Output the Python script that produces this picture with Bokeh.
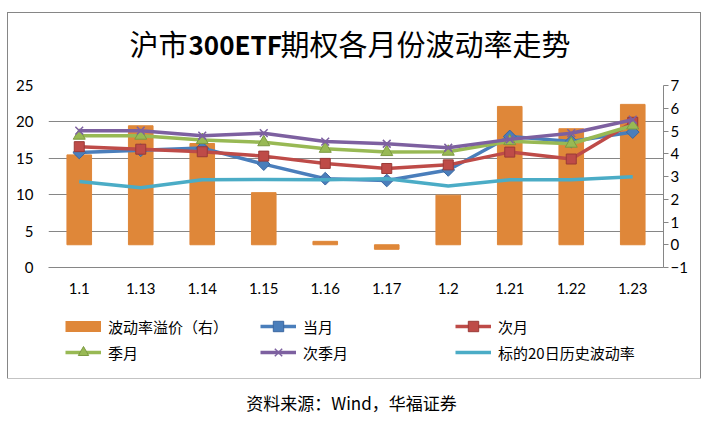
import math
from bokeh.plotting import figure
from bokeh.layouts import column
from bokeh.models import (Range1d, FactorRange, LinearAxis, FixedTicker, Legend,
                          LegendItem, Label)
from bokeh.embed import file_html
from bokeh.resources import INLINE

# ---- data ----
dates = ["1.1", "1.13", "1.14", "1.15", "1.16", "1.17", "1.2", "1.21", "1.22", "1.23"]
premium = [3.95, 5.23, 4.45, 2.29, 0.15, -0.20, 2.18, 6.08, 5.10, 6.17]      # right axis
front_month = [15.8, 16.1, 16.4, 14.2, 12.2, 11.95, 13.4, 18.0, 17.3, 18.6]
next_month = [16.6, 16.25, 15.9, 15.3, 14.3, 13.6, 14.1, 15.85, 14.9, 19.95]
quarter_month = [18.1, 18.1, 17.5, 17.2, 16.3, 15.85, 15.9, 17.35, 17.0, 19.5]
next_quarter = [18.8, 18.8, 18.1, 18.45, 17.3, 17.0, 16.45, 17.6, 18.45, 20.3]
hv20 = [11.8, 10.95, 12.05, 12.1, 12.05, 12.2, 11.2, 12.05, 12.05, 12.45]
left_ticks = [0, 5, 10, 15, 20, 25]
right_ticks = [-1, 0, 1, 2, 3, 4, 5, 6, 7]
series_names = ["波动率溢价（右）", "当月", "次月", "季月", "次季月", "标的20日历史波动率"]
title_parts = ["沪市", "300ETF", "期权各月份波动率走势"]
source_text = "资料来源：Wind，华福证券"

GRID = "#868686"
C_BAR = "#DF8739"
C_BLUE = "#4A7EBB"
C_RED = "#BE4B48"
C_GREEN = "#98B954"
C_PURPLE = "#7D60A0"
C_TEAL = "#4BACC6"
NUM_FONT = "Lato"
CJK_FONT = "Noto Sans CJK SC"
W = 692
FRAME_X = (48, 663)   # page x of the plotting frame (frames in the column are aligned)


def bare(width, height, x_range, y_top):
    f = figure(width=width, height=height, x_range=x_range,
               y_range=Range1d(0, y_top),
               output_backend="svg", toolbar_location=None,
               min_border_left=0, min_border_right=0, min_border_top=0, min_border_bottom=0,
               background_fill_color="white", border_fill_color="white")
    f.axis.visible = False
    f.grid.grid_line_color = None
    f.outline_line_color = None
    return f


def draw_series(f, visible=True):
    lw = 3.5
    if visible:
        rb = f.vbar(x=dates, top=premium, bottom=0, width=0.4, color=C_BAR,
                    y_range_name="right")
    else:
        # legend key for the bars: a short thick orange band
        rb = f.line(dates, premium, color=C_BAR, line_width=11, visible=False)
    r1l = f.line(dates, front_month, color=C_BLUE, line_width=lw, visible=visible)
    r1m = f.scatter(dates, front_month, marker="square", angle=math.pi / 4, size=9,
                    fill_color=C_BLUE, line_color="#3A67A0", visible=visible)
    r2l = f.line(dates, next_month, color=C_RED, line_width=lw, visible=visible)
    r2m = f.scatter(dates, next_month, marker="square", size=10,
                    fill_color=C_RED, line_color="#9A3A37", visible=visible)
    r3l = f.line(dates, quarter_month, color=C_GREEN, line_width=lw, visible=visible)
    r3m = f.scatter(dates, quarter_month, marker="triangle", size=12,
                    fill_color=C_GREEN, line_color="#7C9A42", visible=visible)
    r4l = f.line(dates, next_quarter, color=C_PURPLE, line_width=lw, visible=visible)
    r4m = f.scatter(dates, next_quarter, marker="x", size=11, line_color=C_PURPLE,
                    line_width=1.5, visible=visible)
    r5l = f.line(dates, hv20, color=C_TEAL, line_width=lw, visible=visible)
    return [[rb], [r1l, r1m], [r2l, r2m], [r3l, r3m], [r4l, r4m], [r5l]]


# ---- title strip ----
p_title = bare(W, 57, Range1d(*FRAME_X), 57)
p_title.add_layout(Label(x=187, y=28, text=title_parts[0], text_align="right",
                         text_baseline="middle", text_font=CJK_FONT, text_font_size="29px",
                         text_color="#000000"))
p_title.add_layout(Label(x=188, y=27, text=title_parts[1], text_align="left",
                         text_baseline="middle", text_font=CJK_FONT, text_font_size="26px",
                         text_font_style="bold", text_color="#000000"))
p_title.add_layout(Label(x=280, y=28, text=title_parts[2], text_align="left",
                         text_baseline="middle", text_font=CJK_FONT, text_font_size="29px",
                         text_color="#000000"))

# ---- main chart ----
p = figure(width=W, height=230, x_range=FactorRange(*dates, range_padding=0),
           y_range=Range1d(0, 25), output_backend="svg", toolbar_location=None,
           min_border_left=40, min_border_right=37, min_border_top=15, min_border_bottom=33,
           background_fill_color="white", border_fill_color="white")
p.outline_line_color = None
p.extra_y_ranges = {"right": Range1d(-1, 7)}

p.yaxis.ticker = FixedTicker(ticks=left_ticks)
p.yaxis.axis_line_color = None
p.yaxis.major_tick_line_color = None
p.yaxis.minor_tick_line_color = None
p.yaxis.major_label_standoff = 9
p.yaxis.major_label_text_font = NUM_FONT
p.yaxis.major_label_text_font_size = "15px"
p.yaxis.major_label_text_color = "#000000"

p.xaxis.axis_line_color = GRID
p.xaxis.major_tick_line_color = None
p.xaxis.major_label_standoff = 9
p.xaxis.major_label_text_font = NUM_FONT
p.xaxis.major_label_text_font_size = "15px"
p.xaxis.major_label_text_color = "#000000"

raxis = LinearAxis(y_range_name="right", ticker=FixedTicker(ticks=right_ticks))
raxis.axis_line_color = GRID
raxis.major_tick_line_color = GRID
raxis.major_tick_in = 0
raxis.major_tick_out = 5
raxis.minor_tick_line_color = None
raxis.major_label_standoff = 2
raxis.major_label_text_font = NUM_FONT
raxis.major_label_text_font_size = "15px"
raxis.major_label_text_color = "#000000"
p.add_layout(raxis, "right")

p.xgrid.grid_line_color = None
p.ygrid.ticker = FixedTicker(ticks=left_ticks)
p.ygrid.grid_line_color = GRID
p.ygrid.grid_line_width = 1

draw_series(p, visible=True)

# ---- legend strip (legend keys taken from hidden copies of the series) ----
p_leg = bare(W, 78, FactorRange(*dates), 78)
leg_renderers = draw_series(p_leg, visible=False)
legend = Legend(items=[LegendItem(label=n, renderers=r) for n, r in zip(series_names, leg_renderers)],
                orientation="horizontal", ncols=3, location=(17, 13))
legend.glyph_width = 36
legend.glyph_height = 26
legend.label_height = 26
legend.label_width = 152
legend.label_standoff = 7
legend.spacing = 0
legend.padding = 0
legend.margin = 0
legend.border_line_color = None
legend.background_fill_alpha = 0
legend.inactive_fill_alpha = 0
legend.label_text_font = CJK_FONT
legend.label_text_font_size = "15px"
legend.label_text_color = "#000000"
p_leg.add_layout(legend, "center")

box = column(p_title, p, p_leg, spacing=0)
box.margin = (13, 0, 0, 8)
box.styles = {"outline": "1px solid #868686"}

# ---- source note ----
p_src = bare(701, 44, Range1d(0, 701), 44)
p_src.add_layout(Label(x=351, y=20, text=source_text, text_align="center",
                       text_baseline="middle", text_font=CJK_FONT, text_font_size="17px",
                       text_color="#000000"))

open("out.html", "w").write(file_html(column(box, p_src, spacing=0), INLINE))
